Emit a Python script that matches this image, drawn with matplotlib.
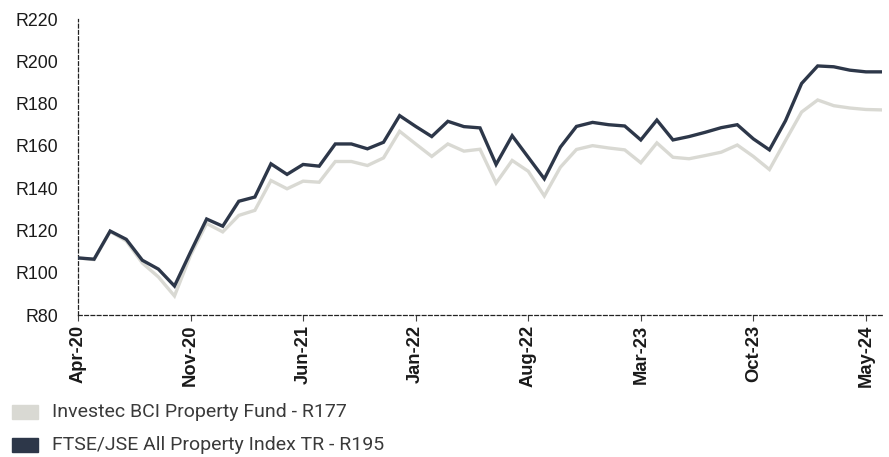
import matplotlib
matplotlib.use("Agg")
import matplotlib.pyplot as plt
from matplotlib.patches import Rectangle
import numpy as np

months = ["Apr-20","May-20","Jun-20","Jul-20","Aug-20","Sep-20","Oct-20","Nov-20","Dec-20",
          "Jan-21","Feb-21","Mar-21","Apr-21","May-21","Jun-21","Jul-21","Aug-21","Sep-21",
          "Oct-21","Nov-21","Dec-21","Jan-22","Feb-22","Mar-22","Apr-22","May-22","Jun-22",
          "Jul-22","Aug-22","Sep-22","Oct-22","Nov-22","Dec-22","Jan-23","Feb-23","Mar-23",
          "Apr-23","May-23","Jun-23","Jul-23","Aug-23","Sep-23","Oct-23","Nov-23","Dec-23",
          "Jan-24","Feb-24","Mar-24","Apr-24","May-24","Jun-24"]

fund = [107.0, 106.2, 119.5, 115.0, 104.6, 98.0, 89.0, 108.3, 123.3, 119.3, 127.1,
        129.5, 143.6, 139.7, 143.3, 142.8, 152.6, 152.6, 150.7, 154.3, 166.9, 160.9,
        155.0, 160.9, 157.5, 158.4, 142.4, 153.1, 148.0, 136.3, 149.9, 158.3, 160.1,
        159.0, 158.1, 152.0, 161.4, 154.6, 153.9, 155.4, 157.0, 160.4, 155.0, 148.8,
        162.5, 176.0, 181.7, 179.0, 177.9, 177.2, 177.0]

index = [107.0, 106.4, 119.7, 115.8, 105.9, 101.7, 93.7, 109.8, 125.4, 122.0, 133.8,
         135.8, 151.5, 146.5, 151.2, 150.4, 160.9, 160.9, 158.6, 161.7, 174.3, 169.2,
         164.4, 171.6, 169.1, 168.5, 151.2, 164.8, 154.6, 144.4, 159.4, 169.2, 171.1,
         170.0, 169.4, 162.8, 172.2, 162.8, 164.4, 166.4, 168.6, 170.0, 163.3, 158.1,
         171.9, 189.5, 197.8, 197.4, 195.8, 195.0, 195.0]

labels = ["Investec BCI Property Fund - R177", "FTSE/JSE All Property Index TR - R195"]
colors = ["#d9d9d3", "#2d3749"]
yticks = [80, 100, 120, 140, 160, 180, 200, 220]
tick_step = 7

fig = plt.figure(figsize=(8.89, 4.57), dpi=100)
ax = fig.add_axes([78/889, 1-315/457, (882-78)/889, (315-19)/457])

x = np.arange(len(months))
ax.plot(x, fund, color=colors[0], lw=2.4, solid_joinstyle="miter", zorder=2)
ax.plot(x, index, color=colors[1], lw=2.4, solid_joinstyle="miter", zorder=3)

ax.set_xlim(0, len(months)-1)
ax.set_ylim(80, 220)
ax.set_yticks(yticks)
ax.set_yticklabels([f"R{v}" for v in yticks], fontsize=12.8, color="#1a1a1a",
                   family="Liberation Sans")
tp = list(range(0, len(months), tick_step))
ax.set_xticks(tp)
ax.set_xticklabels([months[i] for i in tp], rotation=90, fontsize=13.2, color="#1a1a1a",
                   family="Liberation Sans", fontweight="bold")
ax.tick_params(axis="y", length=0, pad=14)
ax.tick_params(axis="x", length=4, width=0.8, direction="out", pad=3, color="#444444")

for s in ["top", "right"]:
    ax.spines[s].set_visible(False)
for s in ["left", "bottom"]:
    ax.spines[s].set_linestyle((0, (3, 2)))
    ax.spines[s].set_linewidth(0.9)
    ax.spines[s].set_color("#222222")

# legend
for i, (lab, c) in enumerate(zip(labels, colors)):
    yc = 412 + i*32.5
    fig.patches.append(Rectangle((12/889, 1-(yc+7)/457), 26/889, 14/457,
                                 transform=fig.transFigure, color=c))
    fig.text(52/889, 1-yc/457, lab, fontsize=14, color="#3a3a3a", va="center",
             ha="left", family="Roboto")

fig.savefig("out.png", dpi=100)
